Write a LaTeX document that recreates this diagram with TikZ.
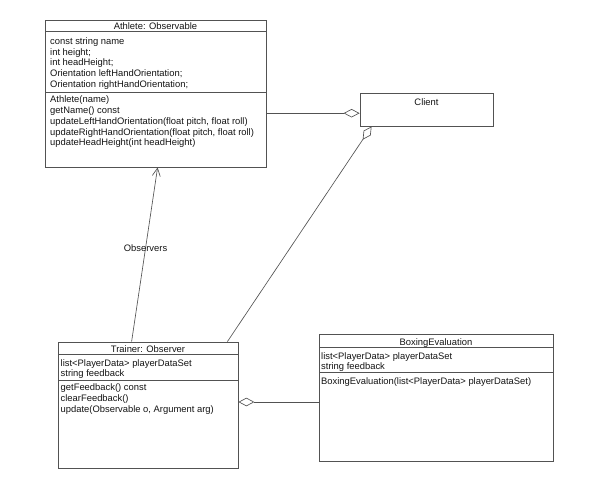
\documentclass[tikz,border=0pt]{standalone}
\usepackage{fontspec}
\setmainfont{Liberation Sans}
\usetikzlibrary{arrows.meta,shadows}
\definecolor{linecol}{gray}{0.32}
\definecolor{textcol}{gray}{0.08}
\begin{document}
\begin{tikzpicture}[x=1pt,y=-1pt,
  classbox/.style={draw=linecol, line width=0.8pt, fill=white, inner sep=0pt,
    drop shadow={shadow xshift=0.9pt, shadow yshift=-0.9pt, fill=black!30, opacity=1}},
  sepline/.style={draw=linecol, line width=0.8pt},
  txt/.style={inner sep=0pt, text=textcol, font=\fontsize{9.4}{10.7}\selectfont},
  lw/.style={txt, anchor=base west},
  lc/.style={txt, anchor=base},
  conn/.style={draw=linecol, line width=0.65pt},
  agg/.style={conn, -{Diamond[open, fill=white, length=16pt, width=8.5pt]}},
  nav/.style={conn, -{Straight Barb[length=8pt, width=8pt]}}
]
\useasboundingbox (0,0) rectangle (600,497);

% ---------------- Athlete ----------------
\node[classbox, minimum width=221pt, minimum height=147pt] (athlete) at (155.5,93.5) {};
\draw[sepline] (45,31) -- (266,31);
\draw[sepline] (45,92) -- (266,92);
\node[lc] (athT) at (155.5,29.6) {Athlete: Observable};
\node[lw] (athA1) at (50,44.7) {const string name};
\node[lw] (athA2) at (50,55.3) {int height;};
\node[lw] (athA3) at (50,65.9) {int headHeight;};
\node[lw] (athA4) at (50,76.5) {Orientation leftHandOrientation;};
\node[lw] (athA5) at (50,87.1) {Orientation rightHandOrientation;};
\node[lw] (athM1) at (50,103.0) {Athlete(name)};
\node[lw] (athM2) at (50,113.7) {getName() const};
\node[lw] (athM3) at (50,124.4) {updateLeftHandOrientation(float pitch, float roll)};
\node[lw] (athM4) at (50,135.1) {updateRightHandOrientation(float pitch, float roll)};
\node[lw] (athM5) at (50,145.8) {updateHeadHeight(int headHeight)};

% ---------------- Client ----------------
\node[classbox, minimum width=133pt, minimum height=33pt] (client) at (426.5,109.5) {};
\node[lc] (clT) at (426.5,105.1) {Client};

% ---------------- Trainer ----------------
\node[classbox, minimum width=180pt, minimum height=126pt] (trainer) at (148,405) {};
\draw[sepline] (58,354.3) -- (238,354.3);
\draw[sepline] (58,380) -- (238,380);
\node[lc] (trT) at (148,352.6) {Trainer: Observer};
\node[lw] (trA1) at (60.5,366.3) {list<PlayerData> playerDataSet};
\node[lw] (trA2) at (60.5,376.7) {string feedback};
\node[lw] (trM1) at (60.5,390.7) {getFeedback() const};
\node[lw] (trM2) at (60.5,401.4) {clearFeedback()};
\node[lw] (trM3) at (60.5,412.1) {update(Observable o, Argument arg)};

% ---------------- BoxingEvaluation ----------------
\node[classbox, minimum width=234pt, minimum height=127pt] (boxing) at (436,397.5) {};
\draw[sepline] (319,347.7) -- (553,347.7);
\draw[sepline] (319,372.5) -- (553,372.5);
\node[lc] (bxT) at (436,345.6) {BoxingEvaluation};
\node[lw] (bxA1) at (321,359.2) {list<PlayerData> playerDataSet};
\node[lw] (bxA2) at (321,369.6) {string feedback};
\node[lw] (bxM1) at (321,384.2) {BoxingEvaluation(list<PlayerData> playerDataSet)};

% ---------------- Connectors ----------------
\coordinate (cl1) at ([yshift=-3.7pt]client.west);
\draw[agg] (athlete.east |- cl1) -- (cl1);

\coordinate (cl2) at ([xshift=12pt]client.south west);
\coordinate (tr2) at ([xshift=-11pt]trainer.north east);
\draw[agg] (tr2) -- (cl2);

\coordinate (tr3) at ([xshift=74pt]trainer.north west);
\coordinate (at3) at ([xshift=113pt]athlete.south west);
\draw[nav] (tr3) -- node[pos=0.537, txt] (obs) {Observers} (at3);

\coordinate (tr4) at ([yshift=3pt]trainer.east);
\draw[agg] (boxing.west |- tr4) -- (tr4);
\end{tikzpicture}
\end{document}
